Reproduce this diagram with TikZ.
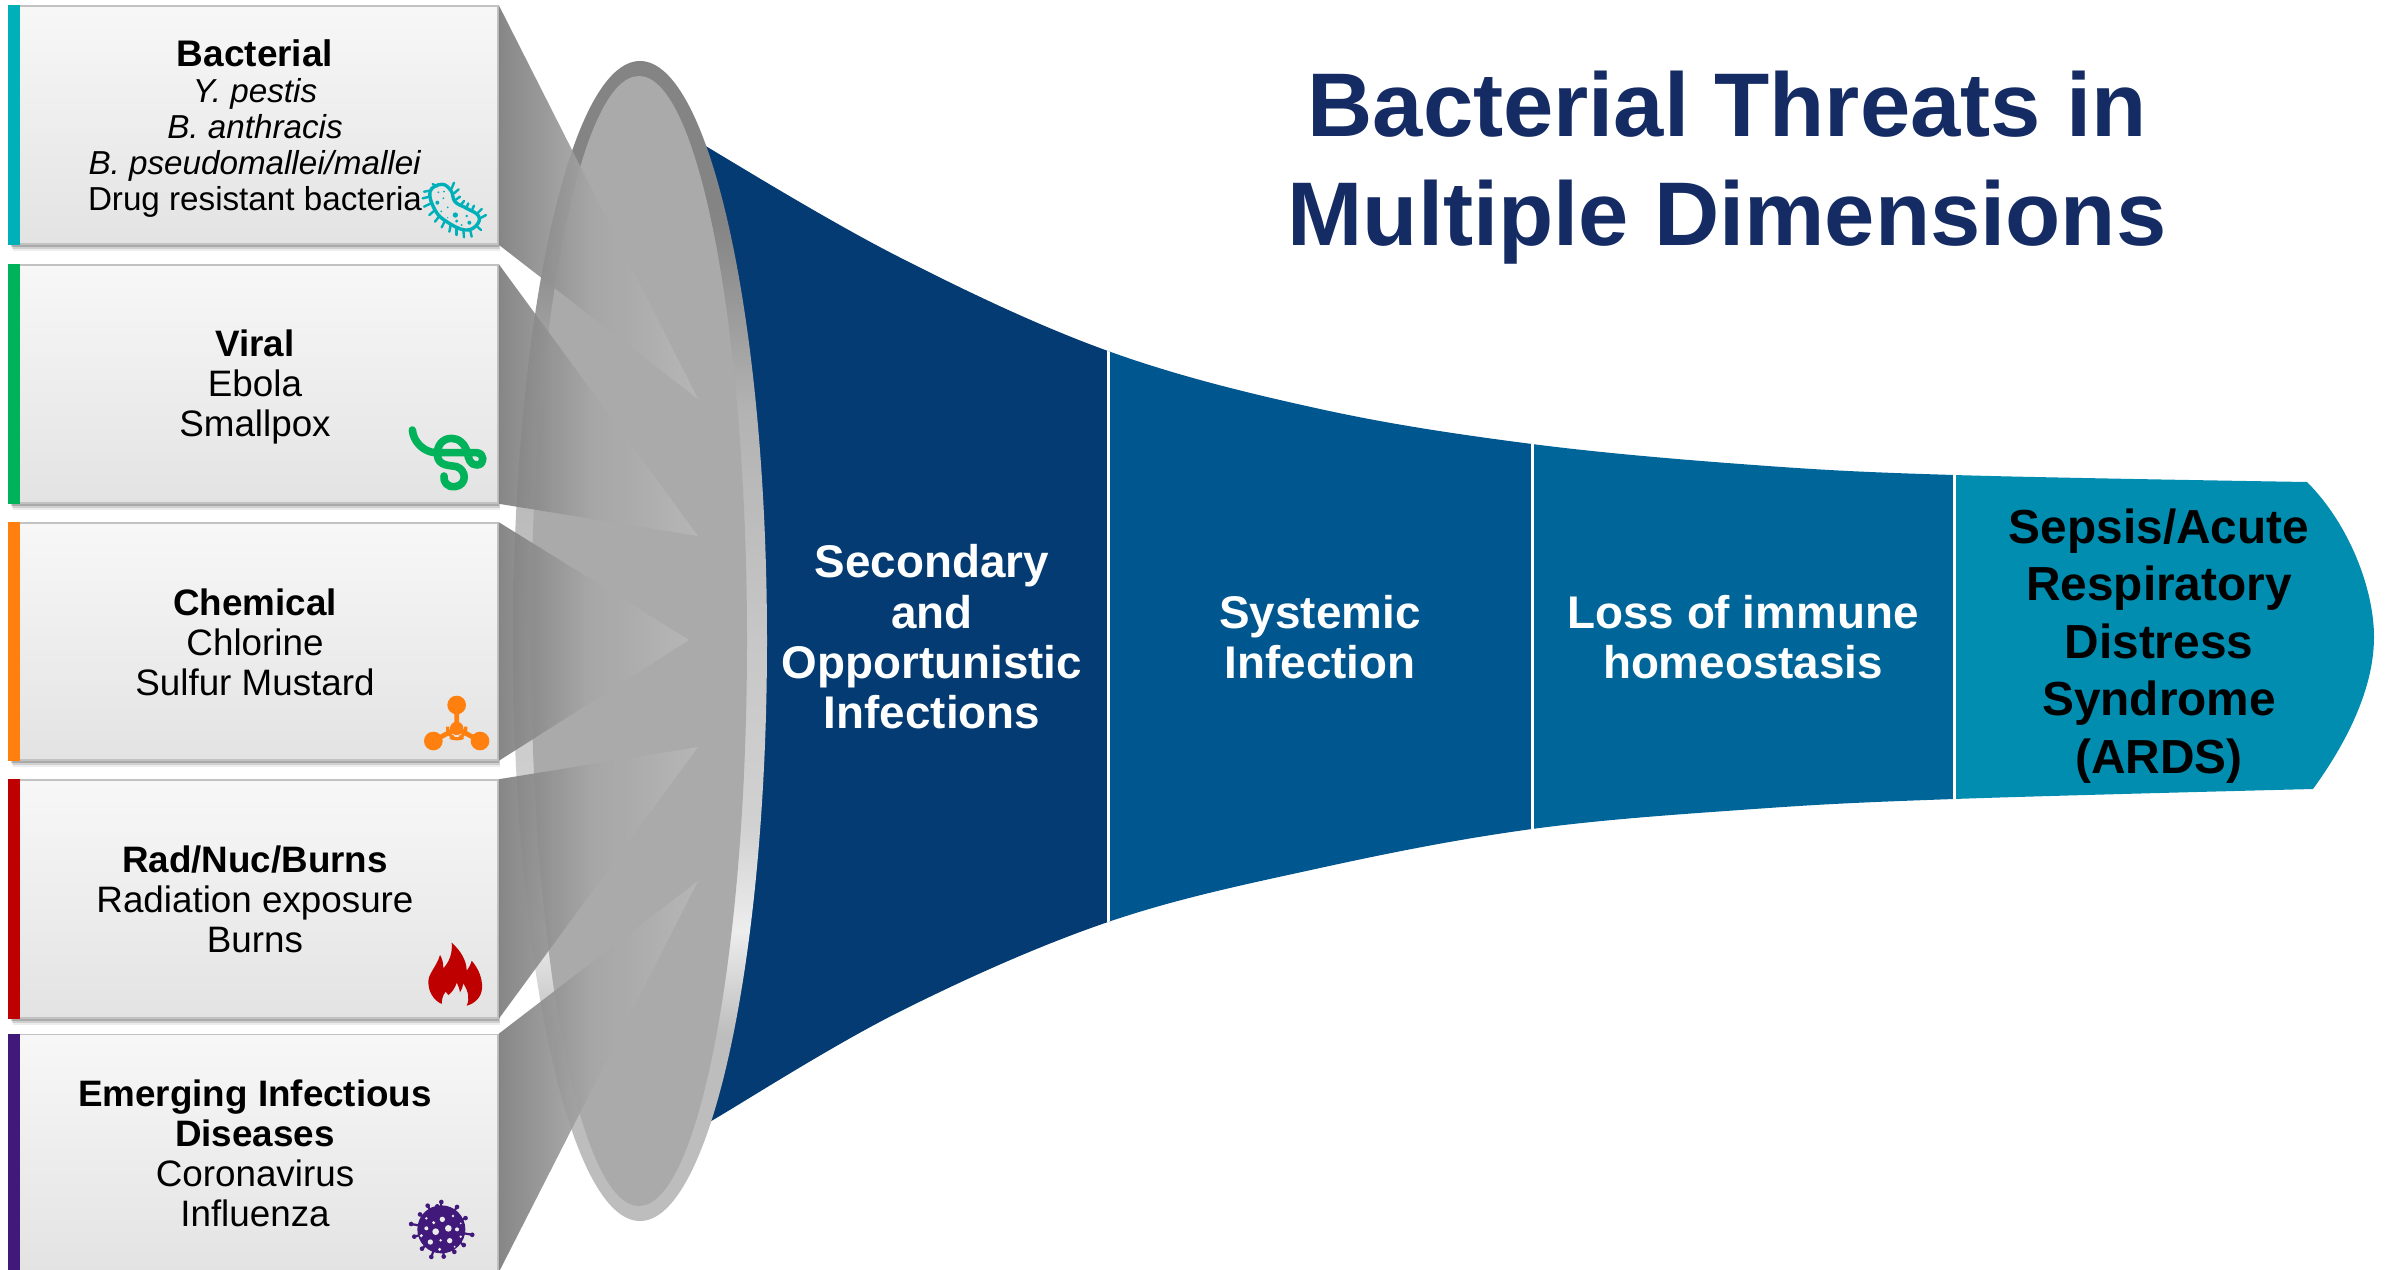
\documentclass[tikz,border=0pt]{standalone}
\usepackage{fontspec}
\setmainfont{Liberation Sans}
\usetikzlibrary{calc}
\definecolor{cTeal}{HTML}{00B0B9}
\definecolor{cGreen}{HTML}{00B259}
\definecolor{cOrange}{HTML}{FF7F0F}
\definecolor{cRed}{HTML}{BE0000}
\definecolor{cPurple}{HTML}{41197A}
\definecolor{cNavy}{HTML}{142B63}
\definecolor{sOne}{HTML}{033B72}
\definecolor{sTwo}{HTML}{00568F}
\definecolor{sThree}{HTML}{00669A}
\definecolor{sFour}{HTML}{008DB0}
\pgfdeclareverticalshading{ringshade}{100bp}{
 color(0bp)=(black!26);color(33bp)=(black!26);color(37.5bp)=(black!7);color(42bp)=(black!18);color(50bp)=(black!22);
 color(60bp)=(black!30);color(68bp)=(black!48);color(100bp)=(black!50)}
\pgfdeclarehorizontalshading{wedgeshade}{100bp}{
 color(0bp)=(black!52);color(25bp)=(black!52);color(48bp)=(black!35);color(75bp)=(black!28);color(100bp)=(black!28)}
\tikzset{
 boxst/.style={draw=black!24,line width=.8pt,top color=black!3,bottom color=black!11,inner sep=0pt,minimum width=244.5pt},
 boxtext/.style={align=center,inner sep=0pt,font=\fontsize{18.4}{20}\selectfont},
 wedge/.style={shading=wedgeshade,opacity=.9},
 seclabel/.style={text=white,font=\fontsize{22.9}{25.2}\selectfont\bfseries,align=center,inner sep=0pt},
}
\newcommand{\boxshadow}[4]{%
 \foreach \d/\o in {1/.18,3/.18,5/.12,7/.07}{\fill[black,opacity=\o] (#1+\d/2,#2+\d) rectangle (#3+\d/3,#4+\d);}}
\begin{document}
\begin{tikzpicture}[x=.5pt,y=-.5pt]
\useasboundingbox (0,0) rectangle (2390,1270);
\fill[white] (0,0) rectangle (2390,1270);
% funnel
\begin{scope}
\clip plot[smooth,tension=.6] coordinates {(690,132)(709,148)(899,257)(1108,351)(1320,409)(1532,444)(1754,465)(1954,475)(2307,482)}
 .. controls (2350,525) and (2374,590) .. (2374,637) .. controls (2374,690) and (2345,745) .. (2313,789)
 -- plot[smooth,tension=.6] coordinates {(2313,789)(1954,799)(1754,809)(1532,829)(1320,868)(1108,922)(899,1012)(713,1120)(690,1135)} -- cycle;
\fill[sOne] (600,0) rectangle (1108,1270);
\fill[sTwo] (1108,0) rectangle (1532,1270);
\fill[sThree] (1532,0) rectangle (1954,1270);
\fill[sFour] (1954,0) rectangle (2390,1270);
\fill[white] (1107,0) rectangle (1110,1270);
\fill[white] (1531,0) rectangle (1534,1270);
\fill[white] (1953,0) rectangle (1956,1270);
\end{scope}
% lens
\shade[shading=ringshade] (640,641) ellipse [x radius=127,y radius=580];
\fill[black!33.5] (639,641) ellipse [x radius=108,y radius=565];
% boxes
\boxshadow{9}{6}{498}{244}
\boxshadow{9}{265}{498}{503}
\boxshadow{9}{523}{498}{760}
\boxshadow{9}{780}{498}{1018}
\boxshadow{9}{1035}{498}{1272}
\node[boxst,minimum height=119pt] (b1) at (253.5,125) {};
\node[boxst,minimum height=119pt] (b2) at (253.5,384) {};
\node[boxst,minimum height=118.5pt] (b3) at (253.5,641.5) {};
\node[boxst,minimum height=119pt] (b4) at (253.5,899) {};
\node[boxst,minimum height=118.5pt] (b5) at (253.5,1153) {};
\foreach \n/\c in {b1/cTeal,b2/cGreen,b3/cOrange,b4/cRed,b5/cPurple}{
 \fill[\c] (\n.north west) rectangle ($(\n.south west)+(12,0)$);}
\node[boxtext,font=\fontsize{16.6}{18.1}\selectfont] (t1) at (255,128.5) {{\fontsize{18.5}{18.1}\selectfont\textbf{Bacterial}}\\\textit{Y. pestis}\\\textit{B. anthracis}\\\textit{B. pseudomallei/mallei}\\Drug resistant bacteria};
\node[boxtext] (t2) at (255,387) {\textbf{Viral}\\Ebola\\Smallpox};
\node[boxtext] (t3) at (255,642) {\textbf{Chemical}\\Chlorine\\Sulfur Mustard};
\node[boxtext] (t4) at (255,899) {\textbf{Rad/Nuc/Burns}\\Radiation exposure\\Burns};
\node[boxtext] (t5) at (255,1153) {\textbf{Emerging Infectious}\\\textbf{Diseases}\\Coronavirus\\Influenza};
% wedges
\coordinate (a1) at (698,399);
\coordinate (a2) at (698,536);
\coordinate (a3) at (689,640);
\coordinate (a4) at (698,747);
\coordinate (a5) at (698,881);
\foreach \i in {1,...,5}{
 \shade[wedge] (b\i.north east) -- (a\i) -- (b\i.south east) -- cycle;}
% section labels
\node[seclabel] (s1) at (932,637) {Secondary\\and\\Opportunistic\\Infections};
\node[seclabel] (s2) at (1320,637) {Systemic\\Infection};
\node[seclabel] (s3) at (1743,637) {Loss of immune\\homeostasis};
\node[align=center,inner sep=0pt,font=\fontsize{23.9}{28.7}\selectfont\bfseries] (s4) at (2159,646) {Sepsis/Acute\\Respiratory\\Distress\\Syndrome\\(ARDS)};
\node[align=center,inner sep=0pt,text=cNavy,font=\fontsize{45.2}{54.5}\selectfont\bfseries] (title) at (1727,168) {Bacterial Threats in\\Multiple Dimensions};
% bacterium icon
\begin{scope}[shift={(380,150)},x=.1667pt,y=-.1667pt,cTeal]
\draw[line width=1.7pt] plot[smooth cycle,tension=.7] coordinates {(150,125)(185,103)(213,122)(225,155)(260,175)(295,197)(290,225)(255,240)(200,215)(165,180)};
\foreach \a/\b/\c/\d in {215/115/222/98,222/130/236/118,226/150/240/140,242/165/252/153,258/175/265/160,275/182/282/167,292/190/305/177,300/205/318/195,290/228/303/240,270/238/275/260,250/240/252/262,230/232/230/255,212/225/208/245,195/212/185/232,178/198/165/215,165/180/148/195,153/160/132/170,148/140/128/145,150/122/132/125,170/110/158/102}{
 \draw[line width=1.2pt,line cap=round] (\a,\b) -- (\c,\d);}
\foreach \p/\r in {{172,158}/6,{175,127}/3,{192,125}/3,{190,145}/3,{203,172}/3,{184,184}/3,{226,195}/8,{260,198}/4,{268,218}/6,{230,213}/5,{203,203}/2,{245,225}/3}{
 \fill (\p) circle [radius=\r];}
\end{scope}
% viral icon
\begin{scope}[shift={(380,410)},x=.1667pt,y=-.1667pt]
\draw[cGreen,line width=3.8pt,line cap=round,line join=round] (97,60) .. controls (100,95) and (130,125) .. (165,128) -- (290,128) .. controls (315,130) and (315,165) .. (290,165) .. controls (270,165) and (265,145) .. (262,128) .. controls (255,100) and (235,85) .. (215,85) .. controls (185,85) and (170,110) .. (172,135) .. controls (175,170) and (210,165) .. (230,170) .. controls (260,180) and (262,225) .. (225,230) .. controls (200,232) and (190,215) .. (192,198);
\end{scope}
% chemical icon
\begin{scope}[shift={(400,680)},x=.1667pt,y=-.1667pt,cOrange]
\fill (170,75) circle [radius=28];
\fill (100,183) circle [radius=28];
\fill (240,183) circle [radius=28];
\fill (170,145) circle [radius=20];
\draw[line width=2.4pt] (170,75) -- (170,145) (100,183) -- (170,145) -- (240,183);
\draw[line width=1.6pt] (143,140) arc [start angle=190,end angle=110,radius=29];
\draw[line width=1.6pt] (197,140) arc [start angle=-10,end angle=70,radius=29];
\draw[line width=1.6pt] (150,172) .. controls (160,178) and (180,178) .. (190,172);
\end{scope}
% flame icon
\begin{scope}[shift={(400,920)},x=.1667pt,y=-.1667pt]
\fill[cRed] (155,68) .. controls (180,90) and (200,120) .. (200,152) .. controls (205,145) and (212,135) .. (215,122) .. controls (235,145) and (248,175) .. (246,205) .. controls (244,232) and (225,250) .. (200,257) .. controls (210,235) and (205,215) .. (190,190) .. controls (188,200) and (185,210) .. (180,217) .. controls (178,205) and (174,195) .. (170,188) .. controls (165,205) and (155,218) .. (145,225) -- (137,215) .. controls (128,225) and (125,240) .. (125,252) .. controls (100,240) and (85,215) .. (85,185) .. controls (85,160) and (110,140) .. (120,105) .. controls (127,115) and (130,130) .. (130,145) .. controls (148,125) and (158,100) .. (155,68) -- cycle;
\end{scope}
% virus icon
\begin{scope}[shift={(388,1180)},x=.1667pt,y=-.1667pt,cPurple]
\fill (160,148) circle [radius=72];
\foreach \a/\l in {-90/82,-55/82,-25/80,10/94,35/82,60/78,85/82,110/88,135/82,165/84,190/92,215/78,240/82,260/70}{
 \draw[line width=1.1pt] (160,148) -- ++(\a:\l);
 \fill (160,148) ++(\a:\l) circle [radius=7];}
\foreach \p/\r in {{143,155}/10,{181,145}/10,{163,118}/8,{115,145}/6,{127,186}/8,{185,182}/8,{207,148}/6,{137,128}/5,{155,208}/5,{158,181}/4,{100,167}/5,{115,115}/4,{195,108}/4,{218,170}/4,{200,200}/3,{218,130}/3}{
 \fill[black!8] (\p) circle [radius=\r];}
\end{scope}
\end{tikzpicture}
\end{document}
